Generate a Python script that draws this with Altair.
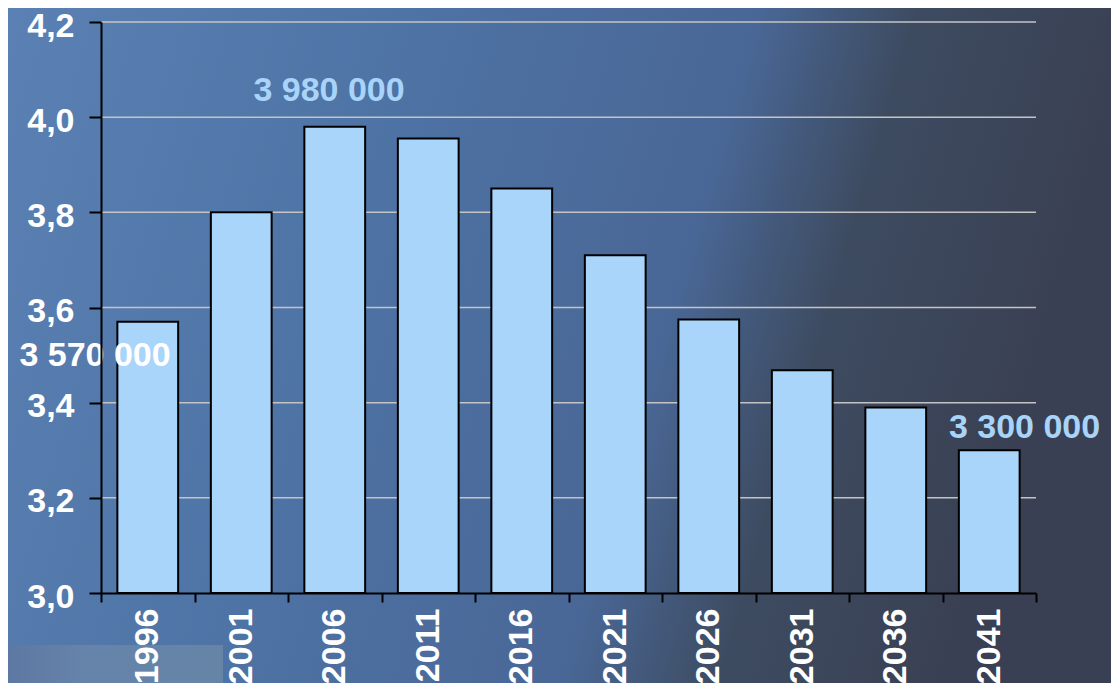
import altair as alt
import pandas as pd

years = ["1996", "2001", "2006", "2011", "2016", "2021", "2026", "2031", "2036", "2041"]
values = [3.57, 3.80, 3.98, 3.955, 3.85, 3.71, 3.575, 3.468, 3.39, 3.30]

y_ticks = [3.0, 3.2, 3.4, 3.6, 3.8, 4.0, 4.2]
grid_vals = [3.2, 3.4, 3.6, 3.8, 4.0, 4.2]

ann_years = ["2006", "1996", "2041"]
ann_y = [4.055, 3.498, 3.347]
ann_text = ["3 980 000", "3 570 000", "3 300 000"]
ann_color = ["#a9d4f9", "#ffffff", "#a9d4f9"]
ann_dx = [41, -6, 82]

df = pd.DataFrame({"year": years, "value": values})
ann = pd.DataFrame({"year": ann_years, "y": ann_y, "text": ann_text,
                    "col": ann_color, "dx": ann_dx})
grid_df = pd.DataFrame({"g": grid_vals})

W, H = 935, 571
PAD = {"left": 93, "top": 14, "right": 75, "bottom": 90}

FONT = "Liberation Sans"

xscale = alt.Scale(domain=years, paddingInner=0, paddingOuter=0)
yscale = alt.Scale(domain=[3.0, 4.2], zero=False, nice=False)

xaxis = alt.Axis(title=None, labelAngle=270, labelAlign="right",
                 labelBaseline="middle", labelColor="white",
                 labelFont=FONT, labelFontSize=34, labelFontWeight="bold",
                 labelPadding=6, tickBand="extent", tickColor="black",
                 tickSize=9, tickWidth=2, domainColor="black",
                 domainWidth=2, grid=False, zindex=1)
yaxis = alt.Axis(title=None, values=y_ticks,
                 labelExpr="replace(format(datum.value, '.1f'), '.', ',')",
                 labelColor="white", labelFont=FONT, labelFontSize=34,
                 labelFontWeight="bold", labelPadding=15, labelOffset=4,
                 tickColor="black", tickSize=12, tickWidth=2,
                 domainColor="black", domainWidth=2,
                 grid=False, zindex=1)

bg = alt.Chart(pd.DataFrame({"a": [0]})).mark_rect(
    fill=alt.LinearGradient(
        gradient="linear",
        x1=0, y1=0, x2=1, y2=0.18,
        stops=[
            alt.GradientStop(offset=0, color="#5b80b3"),
            alt.GradientStop(offset=0.35, color="#4e73a5"),
            alt.GradientStop(offset=0.66, color="#496796"),
            alt.GradientStop(offset=0.8, color="#3d4b60"),
            alt.GradientStop(offset=1, color="#3a4053"),
        ],
    ),
).encode(
    x=alt.value(-PAD["left"]), x2=alt.value(W + PAD["right"]),
    y=alt.value(-PAD["top"]), y2=alt.value(H + PAD["bottom"]),
)

patch = alt.Chart(pd.DataFrame({"a": [0]})).mark_rect(
    fill=alt.LinearGradient(
        gradient="linear", x1=0, y1=0, x2=1, y2=0,
        stops=[
            alt.GradientStop(offset=0, color="#5d78a2"),
            alt.GradientStop(offset=0.35, color="#6683aa"),
            alt.GradientStop(offset=1, color="#6685a6"),
        ],
    ),
).encode(
    x=alt.value(-PAD["left"]), x2=alt.value(122),
    y=alt.value(52 + H), y2=alt.value(H + PAD["bottom"]),
)

grid = alt.Chart(grid_df).mark_rule(color="#c4c4c4", strokeWidth=1.5).encode(
    y=alt.Y("g:Q", scale=yscale, axis=yaxis),
    x=alt.value(0), x2=alt.value(W),
)

bars = alt.Chart(df).mark_bar(
    color="#a9d5fb", stroke="black", strokeWidth=2,
    width=alt.RelativeBandSize(0.65),
).encode(
    x=alt.X("year:N", scale=xscale, sort=years, axis=xaxis),
    y=alt.Y("value:Q", scale=yscale, axis=yaxis),
    y2=alt.datum(3.0),
)

texts = alt.Chart(ann).mark_text(
    font=FONT, fontSize=34, fontWeight="bold", baseline="middle", align="center"
).encode(
    x=alt.X("year:N", scale=xscale, sort=years, axis=xaxis),
    y=alt.Y("y:Q", scale=yscale, axis=yaxis),
    text="text:N",
    color=alt.Color("col:N", scale=None),
    xOffset=alt.XOffset("dx:Q", scale=None),
)

chart = alt.layer(bg, patch, grid, bars, texts).properties(
    width=W, height=H,
    autosize=alt.AutoSizeParams(type="none"),
    padding=PAD,
    background="#45597a",
).configure_view(stroke=None)

chart.save("out.html", embed_options={"renderer": "svg", "actions": False})
